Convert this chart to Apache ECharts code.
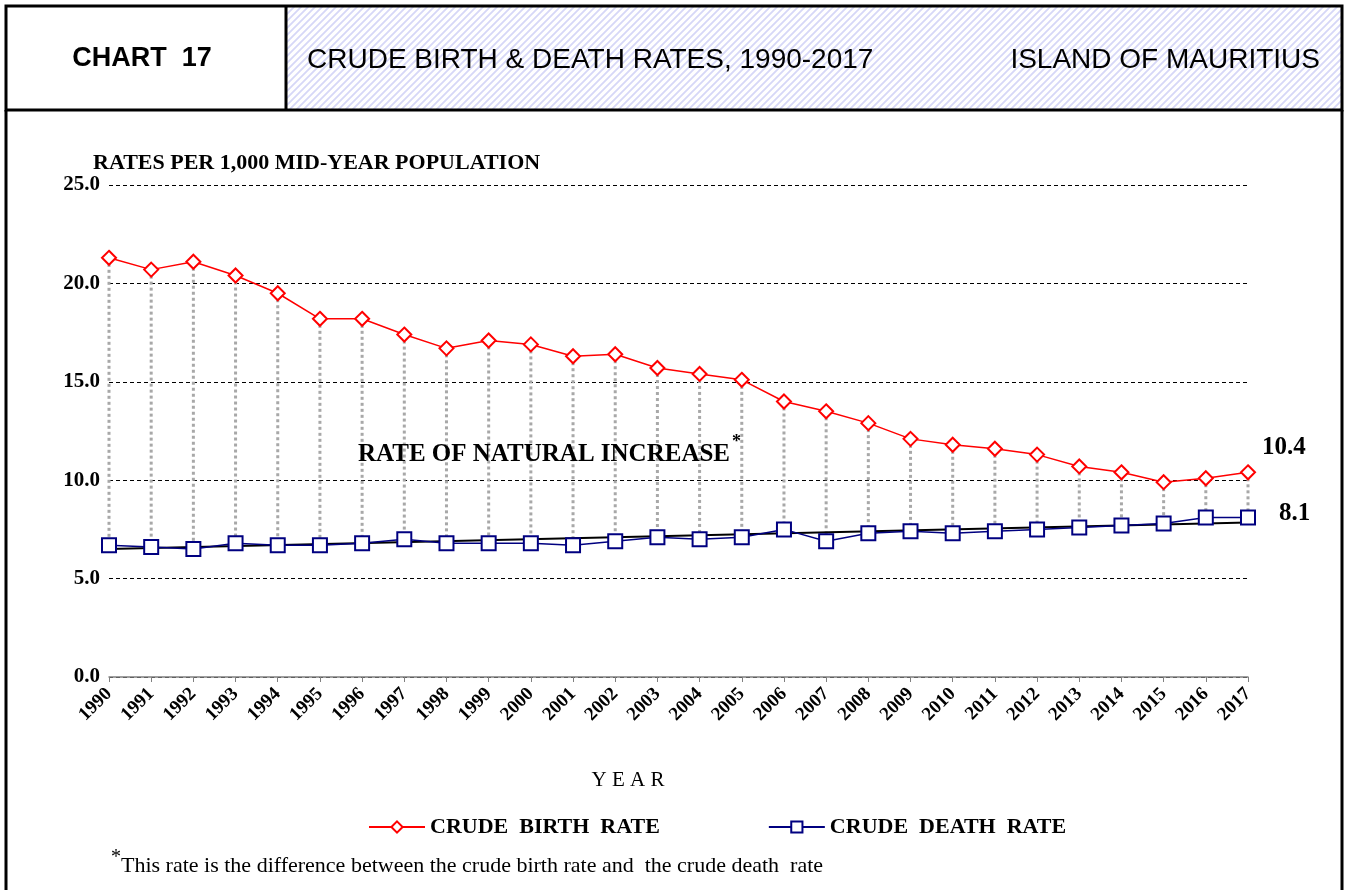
<!DOCTYPE html>
<html>
<head>
<meta charset="utf-8">
<script src="https://cdn.jsdelivr.net/npm/echarts@6/dist/echarts.min.js"></script>
<style>
html, body { margin: 0; padding: 0; background: #fff; }
#chart1 { width: 1345px; height: 890px; }
</style>
</head>
<body>
<div id="chart1"></div>
<script>
var years = ['1990', '1991', '1992', '1993', '1994', '1995', '1996', '1997', '1998', '1999',
    '2000', '2001', '2002', '2003', '2004', '2005', '2006', '2007', '2008', '2009',
    '2010', '2011', '2012', '2013', '2014', '2015', '2016', '2017'];
var birthRate = [21.3, 20.7, 21.1, 20.4, 19.5, 18.2, 18.2, 17.4, 16.7, 17.1,
    16.9, 16.3, 16.4, 15.7, 15.4, 15.1, 14.0, 13.5, 12.9, 12.1,
    11.8, 11.6, 11.3, 10.7, 10.4, 9.9, 10.1, 10.4];
var deathRate = [6.7, 6.6, 6.5, 6.8, 6.7, 6.7, 6.8, 7.0, 6.8, 6.8,
    6.8, 6.7, 6.9, 7.1, 7.0, 7.1, 7.5, 6.9, 7.3, 7.4,
    7.3, 7.4, 7.5, 7.6, 7.7, 7.8, 8.1, 8.1];
// linear trend of the death rate (start / end values)
var deathTrend = [6.5, 7.85];
var yTicks = [0, 25, 5];

var serif = '"Liberation Serif", "DejaVu Serif", serif';
var sans = '"Liberation Sans", Arial, sans-serif';

// hatch for the title cell
var hatch = document.createElement('canvas');
hatch.width = 7;
hatch.height = 7;
var ctx = hatch.getContext('2d');
ctx.fillStyle = '#ffffff';
ctx.fillRect(0, 0, 7, 7);
ctx.strokeStyle = '#d6d7f7';
ctx.lineWidth = 1.8;
ctx.beginPath();
ctx.moveTo(-1, 8); ctx.lineTo(8, -1);
ctx.moveTo(-5, 5); ctx.lineTo(5, -5);
ctx.moveTo(2, 12); ctx.lineTo(12, 2);
ctx.stroke();

var dropData = [];
for (var i = 0; i < years.length; i++) {
    dropData.push([i, birthRate[i], deathRate[i]]);
}

var myChart = echarts.init(document.getElementById('chart1'));

var option = {
    animation: false,
    backgroundColor: '#fff',
    grid: {
        left: 109,
        right: 97,
        top: 185,
        bottom: 213
    },
    legend: {
        data: ['CRUDE  BIRTH  RATE', 'CRUDE  DEATH  RATE'],
        left: 363,
        top: 811,
        itemWidth: 56,
        itemHeight: 14,
        itemGap: 108,
        textStyle: {
            fontFamily: serif,
            fontWeight: 'bold',
            fontSize: 22,
            color: '#000'
        }
    },
    xAxis: {
        type: 'category',
        data: years,
        boundaryGap: false,
        axisLine: {
            show: true,
            lineStyle: { color: '#808080', width: 1.5 }
        },
        axisTick: {
            show: true,
            length: 5,
            lineStyle: { color: '#808080' }
        },
        axisLabel: {
            rotate: 45,
            margin: 14,
            fontFamily: serif,
            fontWeight: 'bold',
            fontSize: 19,
            color: '#000'
        },
        splitLine: { show: false }
    },
    yAxis: {
        type: 'value',
        min: yTicks[0],
        max: yTicks[1],
        interval: yTicks[2],
        name: 'RATES PER 1,000 MID-YEAR POPULATION',
        nameLocation: 'end',
        nameGap: 20,
        nameTextStyle: {
            align: 'left',
            verticalAlign: 'middle',
            padding: [0, 0, 0, -16],
            fontFamily: serif,
            fontWeight: 'bold',
            fontSize: 22,
            color: '#000'
        },
        axisLine: { show: false },
        axisTick: { show: false },
        axisLabel: {
            margin: 9,
            fontFamily: serif,
            fontWeight: 'bold',
            fontSize: 21,
            color: '#000',
            formatter: function (v) { return v.toFixed(1); }
        },
        splitLine: {
            show: true,
            lineStyle: { color: '#000', width: 1, type: [4, 3] }
        }
    },
    series: [
        {
            // drop lines between birth and death rate
            type: 'custom',
            silent: true,
            z: 1,
            encode: { x: 0, y: [1, 2] },
            renderItem: function (params, api) {
                var top = api.coord([api.value(0), api.value(1)]);
                var bot = api.coord([api.value(0), api.value(2)]);
                return {
                    type: 'line',
                    shape: { x1: top[0], y1: top[1], x2: bot[0], y2: bot[1] },
                    style: { stroke: '#a8a8a8', lineWidth: 3, lineDash: [3, 3] }
                };
            },
            data: dropData
        },
        {
            name: 'DEATH TREND',
            type: 'line',
            z: 2,
            symbol: 'none',
            lineStyle: { color: '#000', width: 2 },
            data: [[0, deathTrend[0]], [years.length - 1, deathTrend[1]]]
        },
        {
            name: 'CRUDE  BIRTH  RATE',
            type: 'line',
            z: 3,
            symbol: 'emptyDiamond',
            symbolSize: 14,
            itemStyle: { color: '#ff0000', borderWidth: 2 },
            lineStyle: { color: '#ff0000', width: 1.5 },
            endLabel: {
                show: true,
                offset: [6, -25],
                fontFamily: serif,
                fontWeight: 'bold',
                fontSize: 25,
                color: '#000',
                formatter: function (p) { return p.value.toFixed(1); }
            },
            data: birthRate
        },
        {
            name: 'CRUDE  DEATH  RATE',
            type: 'line',
            z: 3,
            symbol: 'emptyRect',
            symbolSize: 14,
            itemStyle: { color: '#000080', borderWidth: 2 },
            lineStyle: { color: '#000080', width: 1.5 },
            endLabel: {
                show: true,
                offset: [23, -4],
                fontFamily: serif,
                fontWeight: 'bold',
                fontSize: 25,
                color: '#000',
                formatter: function (p) { return p.value.toFixed(1); }
            },
            data: deathRate
        }
    ],
    graphic: [
        {
            type: 'rect',
            shape: { x: 286, y: 6, width: 1056, height: 104 },
            style: { fill: { image: hatch, repeat: 'repeat' }, stroke: 'none' },
            z: 0
        },
        {
            type: 'rect',
            shape: { x: 6, y: 6, width: 1336, height: 104 },
            style: { fill: 'none', stroke: '#000', lineWidth: 3 },
            z: 5
        },
        {
            type: 'line',
            shape: { x1: 286, y1: 6, x2: 286, y2: 110 },
            style: { stroke: '#000', lineWidth: 3 },
            z: 5
        },
        {
            type: 'line',
            shape: { x1: 6, y1: 110, x2: 6, y2: 892 },
            style: { stroke: '#000', lineWidth: 3 },
            z: 5
        },
        {
            type: 'line',
            shape: { x1: 1342, y1: 110, x2: 1342, y2: 892 },
            style: { stroke: '#000', lineWidth: 3 },
            z: 5
        },
        {
            type: 'text',
            x: 142, y: 59,
            style: {
                text: 'CHART  17',
                fontFamily: sans, fontWeight: 'bold', fontSize: 27,
                fill: '#000', align: 'center', verticalAlign: 'middle'
            },
            z: 6
        },
        {
            type: 'text',
            x: 307, y: 60,
            style: {
                text: 'CRUDE BIRTH & DEATH RATES, 1990-2017',
                fontFamily: sans, fontSize: 28,
                fill: '#000', align: 'left', verticalAlign: 'middle'
            },
            z: 6
        },
        {
            type: 'text',
            x: 1320, y: 60,
            style: {
                text: 'ISLAND OF MAURITIUS',
                fontFamily: sans, fontSize: 28,
                fill: '#000', align: 'right', verticalAlign: 'middle'
            },
            z: 6
        },
        {
            type: 'text',
            x: 358, y: 450,
            style: {
                text: '{t|RATE OF NATURAL INCREASE}{s|*}',
                rich: {
                    t: { fontFamily: serif, fontWeight: 'bold', fontSize: 25, fill: '#000', verticalAlign: 'bottom' },
                    s: { fontFamily: serif, fontWeight: 'bold', fontSize: 18, fill: '#000', padding: [0, 0, 16, 2] }
                },
                align: 'left', verticalAlign: 'middle'
            },
            z: 6
        },
        {
            type: 'text',
            x: 628, y: 780,
            style: {
                text: 'Y E A R',
                fontFamily: serif, fontSize: 21,
                fill: '#000', align: 'center', verticalAlign: 'middle'
            },
            z: 6
        },
        {
            type: 'text',
            x: 111, y: 866,
            style: {
                text: '{s|*}{t|This rate is the difference between the crude birth rate and  the crude death  rate}',
                rich: {
                    s: { fontFamily: serif, fontSize: 20, fill: '#000', padding: [0, 0, 16, 0] },
                    t: { fontFamily: serif, fontSize: 22, fill: '#000' }
                },
                align: 'left', verticalAlign: 'middle'
            },
            z: 6
        }
    ]
};
myChart.setOption(option);
</script>
</body>
</html>
